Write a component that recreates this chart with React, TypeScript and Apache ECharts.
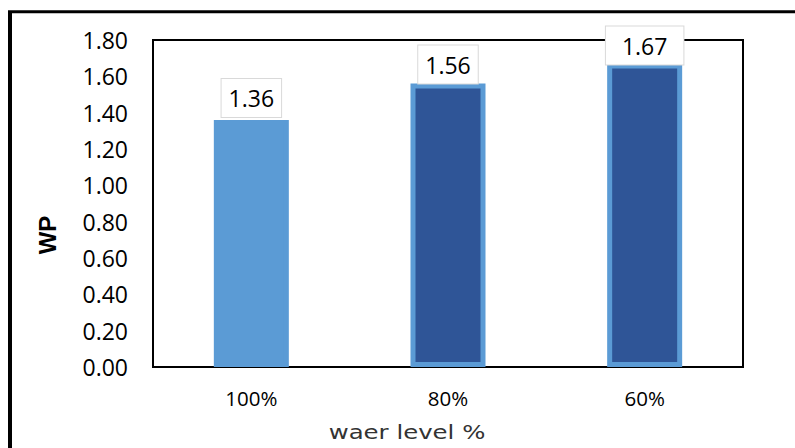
import React, { useEffect, useRef } from "react";
import * as echarts from "echarts";

// Water productivity by irrigation water level
const categories: string[] = ["100%", "80%", "60%"];
const wpValues: number[] = [1.36, 1.56, 1.67];
const yTicks = { min: 0, max: 1.8, interval: 0.2 };

const LIGHT = "#5B9BD5";
const DARK = "#2F5597";
const FONT = "'Open Sans', 'Liberation Sans', sans-serif";

export default function App() {
  const ref = useRef<HTMLDivElement>(null);

  useEffect(() => {
    if (!ref.current) return;
    const chart = echarts.init(ref.current, null, { renderer: "svg" });

    const labelDistance = [3, 0, -1];
    const labelPadX = [7, 7, 16];

    // Every bar has a light outline; the first one is filled with the same light blue
    const data = wpValues.map((v, i) => ({
      value: v,
      itemStyle: {
        color: i === 0 ? LIGHT : DARK,
        borderColor: LIGHT,
        borderWidth: 5,
      },
      label: {
        distance: labelDistance[i],
        padding: [7, labelPadX[i], 7, labelPadX[i]],
      },
    }));

    chart.setOption({
      animation: false,
      backgroundColor: "#ffffff",
      grid: {
        left: 153,
        top: 40,
        right: 52,
        bottom: 81,
        show: true,
        borderColor: "#000000",
        borderWidth: 2,
        backgroundColor: "transparent",
      },
      xAxis: {
        type: "category",
        data: categories,
        axisLine: { show: true, lineStyle: { color: "#000", width: 2 } },
        axisTick: { show: false },
        axisLabel: {
          color: "#000",
          fontFamily: FONT,
          fontSize: 20.5,
          margin: 20,
        },
      },
      yAxis: {
        type: "value",
        min: yTicks.min,
        max: yTicks.max,
        interval: yTicks.interval,
        splitLine: { show: false },
        axisLine: { show: true, lineStyle: { color: "#000", width: 2 } },
        axisTick: { show: false },
        axisLabel: {
          color: "#000",
          fontFamily: FONT,
          fontSize: 23,
          margin: 25,
          formatter: (v: number) => v.toFixed(2),
        },
      },
      series: [
        {
          type: "bar",
          data,
          barWidth: 75,
          z: 3,
          label: {
            show: true,
            position: "top",
            color: "#000",
            fontFamily: FONT,
            fontSize: 23,
            lineHeight: 24,
            backgroundColor: "#ffffff",
            borderColor: "#d9d9d9",
            borderWidth: 1,
            formatter: (p: any) => Number(p.value).toFixed(2),
          },
        },
      ],
      graphic: [
        {
          type: "line",
          shape: { x1: 10, y1: 11.5, x2: 10, y2: 460 },
          style: { stroke: "#000", lineWidth: 4 },
        },
        {
          type: "line",
          shape: { x1: 8, y1: 11.7, x2: 800, y2: 11.7 },
          style: { stroke: "#000", lineWidth: 3 },
        },
        {
          type: "text",
          x: 47,
          y: 235,
          rotation: Math.PI / 2,
          style: {
            text: "WP",
            fill: "#000",
            font: "bold 24px 'Liberation Sans', Arial, sans-serif",
            textAlign: "center",
            textVerticalAlign: "middle",
          },
        },
        {
          type: "text",
          x: 407,
          y: 432,
          scaleX: 1.22,
          style: {
            text: "waer level %",
            fill: "#333333",
            font: "20px 'DejaVu Sans', Verdana, sans-serif",
            textAlign: "center",
            textVerticalAlign: "middle",
          },
        },
      ],
    });

    return () => chart.dispose();
  }, []);

  return (
    <div
      ref={ref}
      style={{
        position: "absolute",
        left: 0,
        top: 0,
        width: 795,
        height: 448,
        background: "#fff",
      }}
    />
  );
}
